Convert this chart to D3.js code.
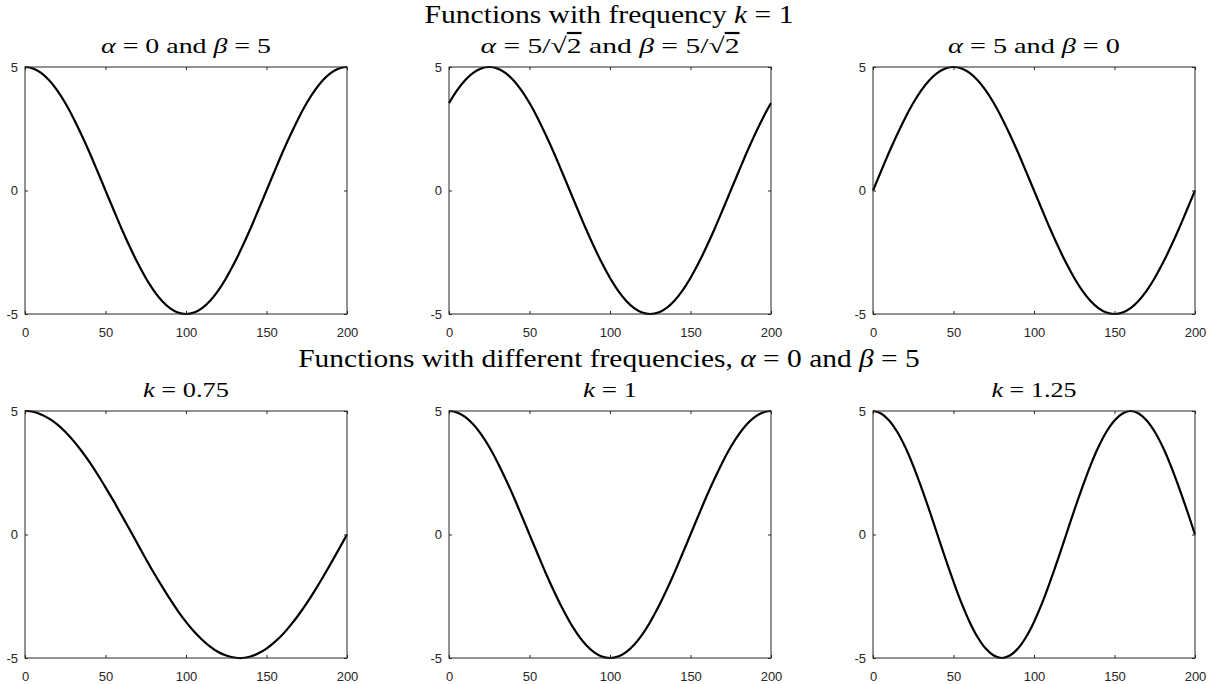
<!DOCTYPE html>
<html>
<head>
<meta charset="utf-8">
<script src="https://cdn.jsdelivr.net/npm/d3@7"></script>
<style>
  html, body { margin: 0; padding: 0; background: #fff; }
  svg { display: block; }
  .ttl { font-family: "Liberation Serif", "DejaVu Serif", serif; fill: #000; }
</style>
</head>
<body>
<svg id="chart" width="1212" height="684"></svg>
<script>
// x samples shared by every panel (step 5)
const xValues = d3.range(0, 201, 5)
const xTicks = [0, 50, 100, 150, 200]
const yTicks = [-5, 0, 5]

// alpha = 0, beta = 5, k = 1
const seriesA0B5 = [5, 4.94, 4.76, 4.46, 4.05, 3.54, 2.94, 2.27, 1.55, 0.78, 0,
  -0.78, -1.55, -2.27, -2.94, -3.54, -4.05, -4.46, -4.76, -4.94, -5,
  -4.94, -4.76, -4.46, -4.05, -3.54, -2.94, -2.27, -1.55, -0.78, 0,
  0.78, 1.55, 2.27, 2.94, 3.54, 4.05, 4.46, 4.76, 4.94, 5]

// alpha = beta = 5/sqrt(2), k = 1
const seriesHalf = [3.54, 4.05, 4.46, 4.76, 4.94, 5, 4.94, 4.76, 4.46, 4.05, 3.54,
  2.94, 2.27, 1.55, 0.78, 0, -0.78, -1.55, -2.27, -2.94, -3.54,
  -4.05, -4.46, -4.76, -4.94, -5, -4.94, -4.76, -4.46, -4.05, -3.54,
  -2.94, -2.27, -1.55, -0.78, 0, 0.78, 1.55, 2.27, 2.94, 3.54]

// alpha = 5, beta = 0, k = 1
const seriesA5B0 = [0, 0.78, 1.55, 2.27, 2.94, 3.54, 4.05, 4.46, 4.76, 4.94, 5,
  4.94, 4.76, 4.46, 4.05, 3.54, 2.94, 2.27, 1.55, 0.78, 0,
  -0.78, -1.55, -2.27, -2.94, -3.54, -4.05, -4.46, -4.76, -4.94, -5,
  -4.94, -4.76, -4.46, -4.05, -3.54, -2.94, -2.27, -1.55, -0.78, 0]

// k = 0.75
const seriesK075 = [5, 4.97, 4.86, 4.69, 4.46, 4.16, 3.80, 3.39, 2.94, 2.44, 1.91,
  1.36, 0.78, 0.20, -0.39, -0.98, -1.55, -2.09, -2.61, -3.10, -3.54,
  -3.93, -4.26, -4.54, -4.76, -4.90, -4.98, -5.00, -4.94, -4.81, -4.62,
  -4.36, -4.05, -3.67, -3.25, -2.78, -2.27, -1.73, -1.17, -0.59, 0]

// k = 1.25
const seriesK125 = [5, 4.90, 4.62, 4.16, 3.54, 2.78, 1.91, 0.98, 0,
  -0.98, -1.91, -2.78, -3.54, -4.16, -4.62, -4.90, -5,
  -4.90, -4.62, -4.16, -3.54, -2.78, -1.91, -0.98, 0,
  0.98, 1.91, 2.78, 3.54, 4.16, 4.62, 4.90, 5,
  4.90, 4.62, 4.16, 3.54, 2.78, 1.91, 0.98, 0]

// title pieces: [text, italic?, overline?]
const mainTitles = [
  [["Functions with frequency "], ["k", 1], [" = 1"]],
  [["Functions with different frequencies, "], ["α", 1], [" = 0 and "], ["β", 1], [" = 5"]]
]
const panelTitles = [
  [["α", 1], [" = 0 and "], ["β", 1], [" = 5"]],
  [["α", 1], [" = 5/√"], ["2", 0, 1], [" and "], ["β", 1], [" = 5/√"], ["2", 0, 1]],
  [["α", 1], [" = 5 and "], ["β", 1], [" = 0"]],
  [["k", 1], [" = 0.75"]],
  [["k", 1], [" = 1"]],
  [["k", 1], [" = 1.25"]]
]
const panelSeries = [seriesA0B5, seriesHalf, seriesA5B0, seriesK075, seriesA0B5, seriesK125]

// layout
const svg = d3.select("#chart")
const colLeft = [25, 449, 873]
const axW = 322
const rowTop = [67, 411]
const axH = 247
const mainWidths = [369, 622]
const panelWidths = [170, 259, 172, 86, 54, 85]

// writes the pieces at a fixed size, then stretches sideways to the wanted width
function writeTitle(parent, cx, cy, parts, size, width) {
  const g = parent.append("g")
  const t = g.append("text").attr("class", "ttl")
    .attr("text-anchor", "middle")
    .style("font-size", size + "px")
  parts.forEach(([s, it, ov]) => {
    const ts = t.append("tspan").text(s)
    if (it) ts.style("font-style", "italic")
    if (ov) ts.style("text-decoration", "overline")
  })
  const w = t.node().getComputedTextLength()
  g.attr("transform", `translate(${cx},${cy}) scale(${(width / w).toFixed(3)},1)`)
}

// main titles
mainTitles.forEach((parts, i) => {
  writeTitle(svg, 609, i === 0 ? 23 : 367, parts, 25, mainWidths[i])
})

panelSeries.forEach((vals, i) => {
  const r = Math.floor(i / 3), c = i % 3
  const left = colLeft[c], top = rowTop[r]
  const x = d3.scaleLinear().domain([0, 200]).range([left, left + axW])
  const y = d3.scaleLinear().domain([-5, 5]).range([top + axH, top])
  const g = svg.append("g")

  // curve
  g.append("path")
    .datum(xValues.map((xv, j) => [xv, vals[j]]))
    .attr("d", d3.line().x(d => x(d[0])).y(d => y(d[1])).curve(d3.curveCatmullRom))
    .attr("fill", "none")
    .attr("stroke", "#000")
    .attr("stroke-width", 2.2)

  // box
  g.append("rect")
    .attr("x", left).attr("y", top).attr("width", axW).attr("height", axH)
    .attr("fill", "none").attr("stroke", "#262626").attr("stroke-width", 1)

  // inward ticks, labels only bottom/left
  const fmt = d => String(d)
  const bottomAxis = d3.axisBottom(x).tickValues(xTicks).tickSizeInner(-3).tickSizeOuter(0).tickPadding(14).tickFormat(fmt)
  const topAxis = d3.axisTop(x).tickValues(xTicks).tickSizeInner(-3).tickSizeOuter(0).tickFormat("")
  const leftAxis = d3.axisLeft(y).tickValues(yTicks).tickSizeInner(-3).tickSizeOuter(0).tickPadding(7).tickFormat(fmt)
  const rightAxis = d3.axisRight(y).tickValues(yTicks).tickSizeInner(-3).tickSizeOuter(0).tickFormat("")

  const styleAxis = a => {
    a.select(".domain").remove()
    a.attr("font-family", "'Liberation Sans', Arial, sans-serif").attr("font-size", 13)
    a.selectAll(".tick line").attr("stroke", "#262626")
    a.selectAll(".tick text").attr("fill", "#262626")
  }
  g.append("g").attr("transform", `translate(0,${top + axH})`).call(bottomAxis).call(styleAxis)
  g.append("g").attr("transform", `translate(0,${top})`).call(topAxis).call(styleAxis)
  g.append("g").attr("transform", `translate(${left},0)`).call(leftAxis).call(styleAxis)
  g.append("g").attr("transform", `translate(${left + axW},0)`).call(rightAxis).call(styleAxis)

  // panel title
  writeTitle(g, left + axW / 2, top - 14, panelTitles[i], 22, panelWidths[i])
})
</script>
</body>
</html>
